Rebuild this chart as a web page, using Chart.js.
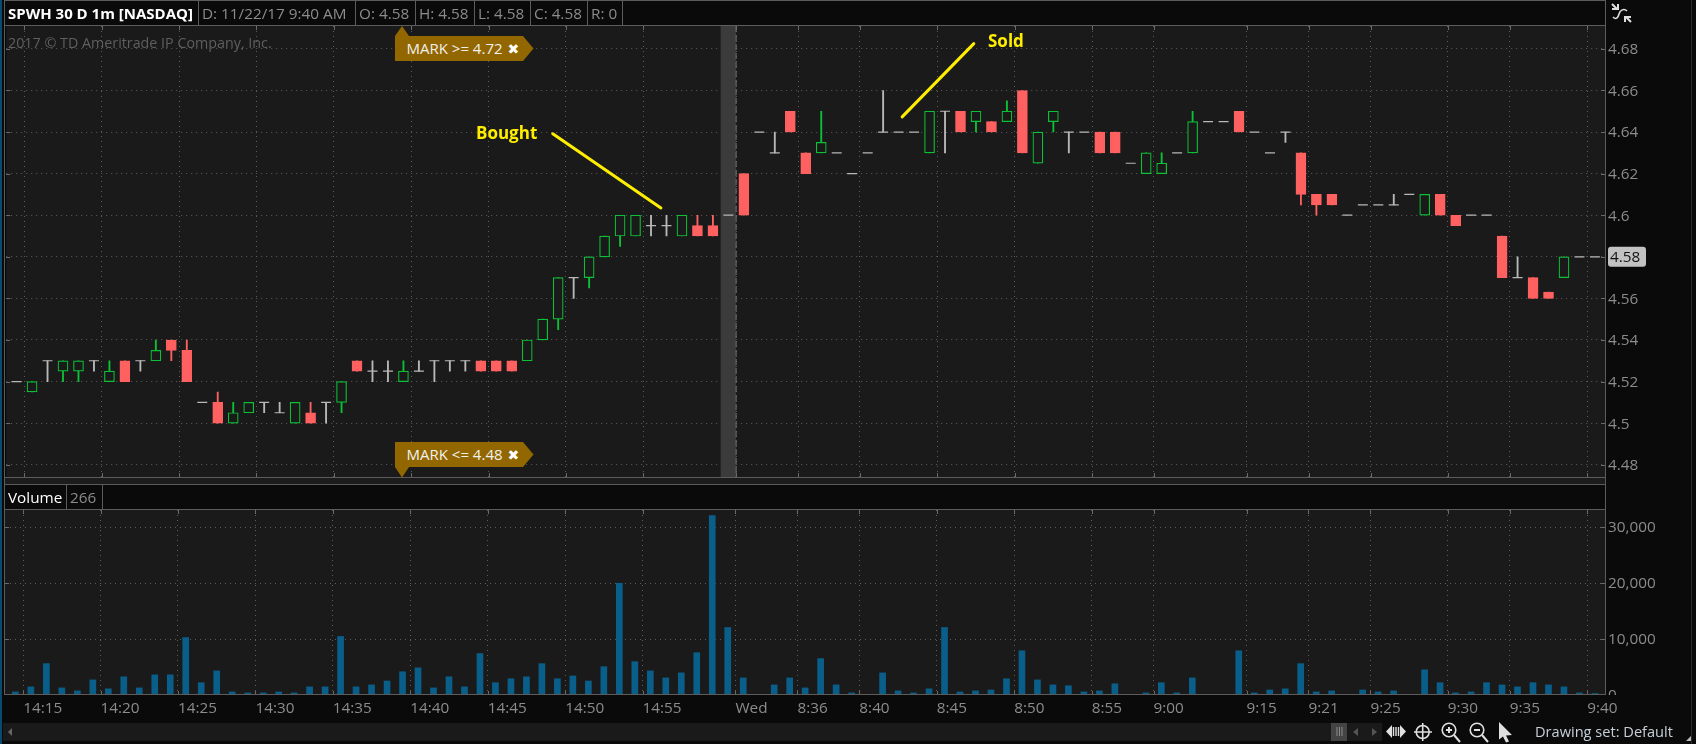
<!DOCTYPE html>
<html><head><meta charset="utf-8">
<script src="https://cdn.jsdelivr.net/npm/chart.js@4/dist/chart.umd.min.js"></script>
<style>
html,body{margin:0;padding:0;background:#0a0a0a;width:1696px;height:744px;overflow:hidden}
canvas{position:absolute;left:0;top:0}
.t{position:absolute;font:15.3px "Open Sans",sans-serif;color:#8c8c8c;white-space:nowrap;line-height:20px}
.l{position:absolute;background:#5c5c5c}
.mark{position:absolute;left:395px;width:139px;height:52px;background:#936700}
.mark span{position:absolute;left:11.5px;color:#f0f0f0;font:15px "Open Sans",sans-serif;white-space:nowrap;line-height:20px}
.mark b{font:bold 14px "DejaVu Sans",sans-serif;margin-left:5px;color:#fff}
svg{position:absolute;left:0;top:0;pointer-events:none}
</style></head><body>
<canvas id="price" width="1696" height="492"></canvas>
<canvas id="vol" width="1696" height="744"></canvas>

<div class="l" style="left:0;top:0;width:2px;height:744px;background:#0b4a6f"></div>
<div class="l" style="left:4px;top:0;width:1602px;height:1px"></div>
<div class="l" style="left:4px;top:25px;width:1602px;height:1px"></div>
<div class="l" style="left:4px;top:0;width:1px;height:695px"></div>
<div class="l" style="left:1605px;top:0;width:1px;height:695px"></div>
<div class="l" style="left:4px;top:477px;width:1602px;height:1px"></div>
<div class="l" style="left:5px;top:478px;width:1600px;height:6px;background:#1c1c1c"></div>
<div class="l" style="left:4px;top:484px;width:1602px;height:1px"></div>
<div class="l" style="left:4px;top:509px;width:1602px;height:1px"></div>
<div class="l" style="left:4px;top:694px;width:1602px;height:1px"></div>
<div class="l" style="left:5px;top:695px;width:1600px;height:1px;background:#0a0a0a"></div>
<div class="l" style="left:198px;top:0;width:1px;height:25px"></div>
<div class="l" style="left:355px;top:0;width:1px;height:25px"></div>
<div class="l" style="left:415px;top:0;width:1px;height:25px"></div>
<div class="l" style="left:474px;top:0;width:1px;height:25px"></div>
<div class="l" style="left:530px;top:0;width:1px;height:25px"></div>
<div class="l" style="left:587px;top:0;width:1px;height:25px"></div>
<div class="l" style="left:622px;top:0;width:1px;height:25px"></div>
<div class="l" style="left:66px;top:484px;width:1px;height:25px"></div>
<div class="l" style="left:102px;top:484px;width:1px;height:25px"></div>
<div class="l" style="left:1691px;top:0;width:1px;height:744px;background:#2c2c2c"></div>

<div class="t" style="left:8px;top:3px;color:#fff;font-weight:700;font-size:15px">SPWH 30 D 1m [NASDAQ]</div>
<div class="t" style="left:202px;top:3px">D: 11/22/17 9:40 AM</div>
<div class="t" style="left:359px;top:3px">O: 4.58</div>
<div class="t" style="left:419px;top:3px">H: 4.58</div>
<div class="t" style="left:478px;top:3px">L: 4.58</div>
<div class="t" style="left:534px;top:3px">C: 4.58</div>
<div class="t" style="left:591px;top:3px">R: 0</div>
<div class="t" style="left:8px;top:33px;color:#5f5f5f;font-size:14.3px">2017 © TD Ameritrade IP Company, Inc.</div>
<div class="t" style="left:8px;top:487px;color:#fff">Volume</div>
<div class="t" style="left:70px;top:487px">266</div>
<div class="t" style="left:476px;top:123px;color:#ffee00;font-weight:700;font-size:17px">Bought</div>
<div class="t" style="left:988px;top:31px;color:#ffee00;font-weight:700;font-size:17px">Sold</div>

<div class="mark" style="top:26px;clip-path:polygon(0 10px,7px 0,14px 10px,128px 10px,138.5px 22.5px,128px 35px,0 35px)"><span style="top:12px">MARK &gt;= 4.72<b>✖</b></span></div>
<div class="mark" style="top:442px;height:36px;clip-path:polygon(0 0,128px 0,138.5px 12.5px,128px 25px,14px 25px,7px 35.5px,0 25px)"><span style="top:2px">MARK &lt;= 4.48<b>✖</b></span></div>

<div class="l" style="left:3px;top:723px;width:1379px;height:18px;background:#1a1a1a"></div>
<div class="l" style="left:1331px;top:723px;width:16px;height:18px;background:#444"></div>
<div class="t" style="left:1535px;top:721px;color:#c6d0d8;font-size:14.6px">Drawing set: Default</div>
<svg width="1696" height="744" fill="none" stroke="#e0e0e0" stroke-width="1.6">
  <path d="M8 732l4-4v8z" fill="#666" stroke="none"/>
  <path d="M1337 727v9M1339.500 727v9M1342 727v9" stroke="#8a8a8a" stroke-width="1"/>
  <path d="M1358 728l-5 4 5 4zM1372 728l5 4-5 4z" fill="#555" stroke="none"/>
  <path d="M1392 725l-6 6.500 6 6.500zM1400 725l6 6.500-6 6.500z" fill="#e0e0e0" stroke="none"/>
  <path d="M1393.500 727v9M1396 727v9M1398.500 727v9" stroke-width="1.400"/>
  <circle cx="1422.700" cy="732" r="6.500"/><path d="M1422.700 723v18M1414 732h18"/>
  <circle cx="1449" cy="730" r="6.800"/><path d="M1454 735l6 7M1446 730h6M1449 727v6" stroke-width="2"/>
  <circle cx="1477" cy="730" r="6.800"/><path d="M1482 735l6 7M1474 730h6" stroke-width="2"/>
  <path d="M1499 722l13 13-6 .5 3 6-3 1-3-6-4 3z" fill="#e0e0e0" stroke="none"/>
  <path d="M1686 741h5v-5z" fill="#bbb" stroke="none"/>
  <path d="M1612 4l5 5M1612 9h6V4" stroke-width="2"/>
  <path d="M1613 17c3 3 5 1 6-3c1-4 5-6 8-3" />
  <path d="M1631 22l-5-5M1631 17h-6v5" stroke-width="2"/>
</svg>

<script>
// Candle time labels; the first candle of the new session is labelled by the day name
const categories = ["14:14","14:15","14:16","14:17","14:18","14:19","14:20","14:21","14:22","14:23","14:24","14:25","14:26","14:27","14:28","14:29","14:30","14:31","14:32","14:33","14:34","14:35","14:36","14:37","14:38","14:39","14:40","14:41","14:42","14:43","14:44","14:45","14:46","14:47","14:48","14:49","14:50","14:51","14:52","14:53","14:54","14:55","14:56","14:57","14:58","14:59","15:00","Wed","8:33","8:34","8:35","8:36","8:37","8:38","8:39","8:40","8:41","8:42","8:43","8:44","8:45","8:46","8:47","8:48","8:49","8:50","8:51","8:52","8:53","8:54","8:55","8:56","8:57","8:59","9:00","9:02","9:04","9:08","9:10","9:12","9:15","9:16","9:18","9:20","9:21","9:22","9:23","9:24","9:25","9:26","9:27","9:28","9:29","9:30","9:31","9:32","9:33","9:35","9:36","9:37","9:38","9:39","9:40"];
const opens = [4.52,4.515,4.53,4.525,4.525,4.53,4.52,4.53,4.53,4.53,4.54,4.535,4.51,4.51,4.5,4.505,4.51,4.505,4.5,4.505,4.51,4.51,4.53,4.525,4.525,4.52,4.525,4.53,4.53,4.53,4.53,4.53,4.53,4.53,4.54,4.55,4.57,4.57,4.58,4.59,4.59,4.595,4.595,4.59,4.595,4.595,4.6,4.62,4.64,4.63,4.65,4.63,4.63,4.63,4.62,4.63,4.64,4.64,4.64,4.63,4.65,4.65,4.645,4.645,4.645,4.66,4.625,4.645,4.64,4.64,4.64,4.64,4.625,4.62,4.62,4.63,4.63,4.645,4.645,4.65,4.64,4.63,4.64,4.63,4.61,4.61,4.6,4.605,4.605,4.605,4.61,4.6,4.61,4.6,4.6,4.6,4.59,4.57,4.57,4.563,4.57,4.58,4.58];
const highs = [4.52,4.52,4.53,4.53,4.53,4.53,4.53,4.53,4.53,4.54,4.54,4.54,4.51,4.515,4.51,4.51,4.51,4.51,4.51,4.51,4.51,4.52,4.53,4.53,4.53,4.53,4.53,4.53,4.53,4.53,4.53,4.53,4.53,4.54,4.55,4.57,4.57,4.58,4.59,4.6,4.6,4.6,4.6,4.6,4.6,4.6,4.6,4.62,4.64,4.64,4.65,4.63,4.65,4.63,4.62,4.63,4.66,4.64,4.64,4.65,4.65,4.65,4.65,4.645,4.655,4.66,4.64,4.65,4.64,4.64,4.64,4.64,4.625,4.63,4.63,4.63,4.65,4.645,4.645,4.65,4.64,4.63,4.64,4.63,4.61,4.61,4.6,4.605,4.605,4.61,4.61,4.61,4.61,4.6,4.6,4.6,4.59,4.58,4.57,4.563,4.58,4.58,4.58];
const lows = [4.52,4.515,4.52,4.52,4.52,4.525,4.52,4.52,4.525,4.53,4.53,4.52,4.51,4.5,4.5,4.505,4.505,4.505,4.5,4.5,4.5,4.505,4.525,4.52,4.52,4.52,4.525,4.52,4.525,4.525,4.525,4.525,4.525,4.53,4.54,4.545,4.56,4.565,4.58,4.585,4.59,4.59,4.59,4.59,4.59,4.59,4.6,4.6,4.64,4.63,4.64,4.62,4.63,4.63,4.62,4.63,4.64,4.64,4.64,4.63,4.63,4.64,4.64,4.64,4.645,4.63,4.625,4.64,4.63,4.64,4.63,4.63,4.625,4.62,4.62,4.63,4.63,4.645,4.645,4.64,4.64,4.63,4.635,4.605,4.6,4.605,4.6,4.605,4.605,4.605,4.61,4.6,4.6,4.595,4.6,4.6,4.57,4.57,4.56,4.56,4.57,4.58,4.58];
const closes = [4.52,4.52,4.53,4.53,4.53,4.53,4.525,4.52,4.53,4.535,4.535,4.52,4.51,4.5,4.505,4.51,4.51,4.505,4.51,4.5,4.51,4.52,4.525,4.525,4.525,4.525,4.525,4.53,4.53,4.53,4.525,4.525,4.525,4.54,4.55,4.57,4.57,4.58,4.59,4.6,4.6,4.595,4.595,4.6,4.59,4.59,4.6,4.6,4.64,4.63,4.64,4.62,4.635,4.63,4.62,4.63,4.64,4.64,4.64,4.65,4.65,4.64,4.65,4.64,4.65,4.63,4.64,4.65,4.64,4.64,4.63,4.63,4.625,4.63,4.625,4.63,4.645,4.645,4.645,4.64,4.64,4.63,4.64,4.61,4.605,4.605,4.6,4.605,4.605,4.605,4.61,4.61,4.6,4.595,4.6,4.6,4.57,4.57,4.56,4.56,4.58,4.58,4.58];
const volumes = [550,1450,5600,1270,730,2700,1100,3250,1270,3600,3600,10250,2200,4300,550,370,370,550,370,1450,1450,10450,1450,1800,2500,4150,4850,1270,3250,1450,7400,2200,2900,3250,5600,2900,3400,2500,5050,19950,5950,4300,3050,3950,7550,32050,12050,3050,0,1800,3050,1270,6500,1800,370,0,3950,730,370,1100,12050,550,730,900,2900,7900,2700,1800,1650,550,730,2000,0,370,2200,370,3050,0,0,7900,370,900,1100,5600,550,730,0,900,550,730,0,4500,2200,370,550,2200,1800,1450,2200,1800,1450,370,266];
const priceTicks = [4.48,4.5,4.52,4.54,4.56,4.58,4.6,4.62,4.64,4.66,4.68];
const volumeTicks = [0,10000,20000,30000];
const timeTickLabels = ["14:15","14:20","14:25","14:30","14:35","14:40","14:45","14:50","14:55","Wed","8:36","8:40","8:45","8:50","8:55","9:00","9:15","9:21","9:25","9:30","9:35","9:40"];
// Hand-drawn annotation lines, as [candle index, price] end points
const boughtLine = [[34.65,4.6392],[41.64,4.6035]];
const soldLine = [[57.23,4.6473],[61.86,4.6825]];
const sessionBreak = "Wed";

const PANE='#1a1a1a', UP='#0cc136', DOWN='#ff6060', FLAT='#b8b8b8', GRID='#5e5e5e';
const FONT={family:'"Open Sans",sans-serif',size:15.3};
const X_MIN=-0.671, X_MAX=102.65;
const idx=categories.map((_,i)=>i);
const colorOf=i=>closes[i]>opens[i]?UP:closes[i]<opens[i]?DOWN:FLAT;
const tickPositions=timeTickLabels.map(l=>categories.indexOf(l)-0.5);
const breakIdx=categories.indexOf(sessionBreak);

function xAxis(showLabels){return {
  type:'linear',min:X_MIN,max:X_MAX,offset:false,
  afterBuildTicks:s=>{s.ticks=tickPositions.map(v=>({value:v}))},
  grid:{offset:false,color:GRID,drawTicks:false,lineWidth:1},
  border:{display:false,dash:[1,4]},
  ticks:{display:showLabels,autoSkip:false,maxRotation:0,minRotation:0,align:'start',padding:4,z:1,
    color:'#8c8c8c',font:FONT,callback:(v,i)=>timeTickLabels[i]}
}}
function yAxis(min,max,ticks,fmt){return {
  type:'linear',position:'right',min,max,
  afterBuildTicks:s=>{s.ticks=ticks.map(v=>({value:v}))},
  afterFit:s=>{s.width=91},
  grid:{color:GRID,drawTicks:false,lineWidth:1},
  border:{display:false,dash:[1,4]},
  ticks:{color:'#8c8c8c',font:FONT,padding:3,labelOffset:1,autoSkip:false,callback:fmt}
}}
const paneBg={id:'paneBg',beforeDraw(c){const a=c.chartArea,g=c.ctx;g.save();g.fillStyle=PANE;g.fillRect(a.left,a.top,a.right-a.left,a.bottom-a.top);g.restore();}};
const edgeTicks={id:'edgeTicks',afterDatasetsDraw(c){const a=c.chartArea,g=c.ctx;g.save();g.strokeStyle='#6a6a6a';g.lineWidth=1;g.beginPath();
  c.scales.x.ticks.forEach(t=>{const x=Math.round(c.scales.x.getPixelForValue(t.value))+.5;g.moveTo(x,a.top);g.lineTo(x,a.top+4);g.moveTo(x,a.bottom-4);g.lineTo(x,a.bottom);});
  c.scales.y.ticks.forEach(t=>{const y=Math.round(c.scales.y.getPixelForValue(t.value))+.5;g.moveTo(a.left,y);g.lineTo(a.left+4,y);g.moveTo(a.right-4,y);g.lineTo(a.right,y);});
  g.stroke();g.restore();}};
const sessionBand={id:'sessionBand',beforeDatasetsDraw(c){const a=c.chartArea,g=c.ctx,x=c.scales.x;g.save();
  const r=x.getPixelForValue(breakIdx-.5),l=x.getPixelForValue(breakIdx-1.5);
  g.fillStyle='#3b3b3b';g.fillRect(l,a.top,r-l,a.bottom-a.top);
  g.strokeStyle='#6e6e6e';g.setLineDash([6,3]);g.beginPath();g.moveTo(r,a.top);g.lineTo(r,a.bottom);g.stroke();g.restore();}};
const notes={id:'notes',afterDraw(c){const g=c.ctx,x=c.scales.x,y=c.scales.y,a=c.chartArea;g.save();
  g.strokeStyle='#ffee00';g.lineWidth=3;g.lineCap='round';
  [boughtLine,soldLine].forEach(L=>{g.beginPath();g.moveTo(x.getPixelForValue(L[0][0]),y.getPixelForValue(L[0][1]));g.lineTo(x.getPixelForValue(L[1][0]),y.getPixelForValue(L[1][1]));g.stroke();});
  const last=closes[closes.length-1],py=y.getPixelForValue(last);
  g.fillStyle='#c2c2c2';g.beginPath();g.roundRect(a.right+3,py-10,38,20,3);g.fill();
  g.fillStyle='#111';g.font='15.3px "Open Sans",sans-serif';g.textAlign='left';g.textBaseline='middle';g.fillText(String(last),a.right+5,py+1);
  g.restore();}};
const zeroClip={id:'zeroClip',beforeDatasetsDraw(c){const a=c.chartArea,g=c.ctx;g.save();g.fillStyle='#0a0a0a';g.fillRect(a.right+1,a.bottom,90,20);g.restore();}};

const bodyIdx=idx.filter(i=>opens[i]!==closes[i]);
const wickIdx=idx.filter(i=>highs[i]!==lows[i]);
const flatIdx=idx.filter(i=>opens[i]===closes[i]);

new Chart(document.getElementById('price'),{
  type:'bar',
  data:{datasets:[
    {order:0,grouped:false,barThickness:10,borderWidth:1.2,borderSkipped:false,
     data:bodyIdx.map(i=>({x:i,y:[Math.min(opens[i],closes[i]),Math.max(opens[i],closes[i])]})),
     backgroundColor:bodyIdx.map(i=>closes[i]>opens[i]?PANE:DOWN),
     borderColor:bodyIdx.map(i=>colorOf(i))},
    {order:1,grouped:false,barThickness:1.2,borderWidth:0,
     data:wickIdx.map(i=>({x:i,y:[lows[i],highs[i]]})),
     backgroundColor:wickIdx.map(i=>colorOf(i))},
    {order:-1,type:'line',showLine:false,pointStyle:'line',pointRadius:5,pointHoverRadius:5,pointBorderWidth:1.2,
     pointBorderColor:FLAT,data:flatIdx.map(i=>({x:i,y:closes[i]}))}
  ]},
  options:{responsive:false,animation:false,events:[],devicePixelRatio:1,
    layout:{padding:{left:5,right:0,top:26,bottom:3}},
    plugins:{legend:{display:false},tooltip:{enabled:false}},
    scales:{x:Object.assign(xAxis(false),{afterFit:s=>{s.height=12}}),
      y:yAxis(4.4741,4.691,priceTicks,v=>String(Number(v.toFixed(2))))}},
  plugins:[paneBg,sessionBand,edgeTicks,notes]
});

new Chart(document.getElementById('vol'),{
  type:'bar',
  data:{datasets:[{barThickness:6,borderWidth:0,backgroundColor:'#0a5f8a',
    data:volumes.map((v,i)=>({x:i,y:v}))}]},
  options:{responsive:false,animation:false,events:[],devicePixelRatio:1,
    layout:{padding:{left:5,right:0,top:510,bottom:0}},
    plugins:{legend:{display:false},tooltip:{enabled:false}},
    scales:{x:Object.assign(xAxis(true),{afterFit:s=>{s.height=49}}),
      y:yAxis(0,33036,volumeTicks,v=>v.toLocaleString('en-US'))}},
  plugins:[paneBg,edgeTicks,zeroClip]
});
</script>
</body></html>
